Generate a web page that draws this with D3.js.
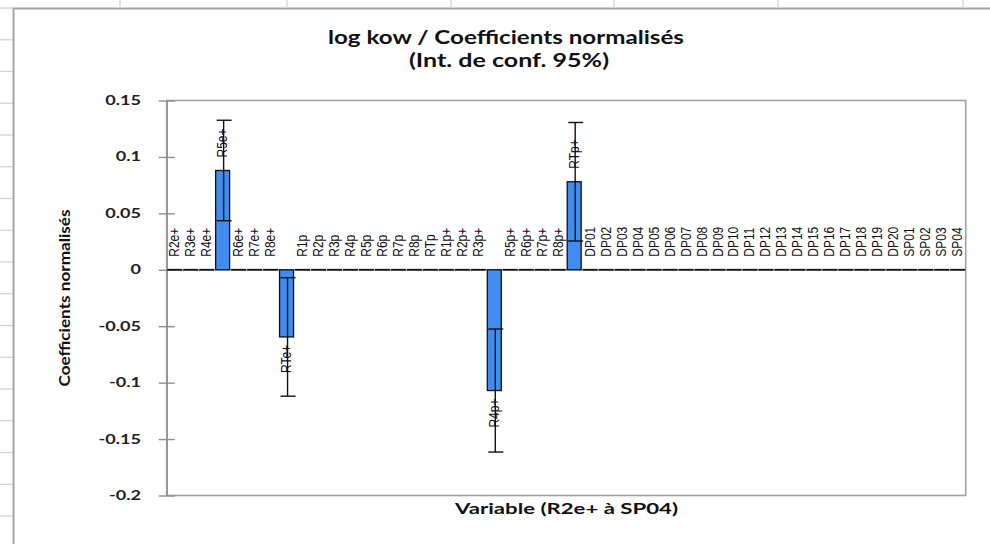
<!DOCTYPE html>
<html>
<head>
<meta charset="utf-8">
<script src="https://cdn.jsdelivr.net/npm/d3@7"></script>
<style>
  html, body { margin: 0; padding: 0; background: #fff; }
  svg { display: block; }
</style>
</head>
<body>
<svg id="chart" width="990" height="544"></svg>
<script>
// ---- data ----
const categories = [
  "R2e+","R3e+","R4e+","R5e+","R6e+","R7e+","R8e+","RTe+",
  "R1p","R2p","R3p","R4p","R5p","R6p","R7p","R8p","RTp",
  "R1p+","R2p+","R3p+","R4p+","R5p+","R6p+","R7p+","R8p+","RTp+",
  "DP01","DP02","DP03","DP04","DP05","DP06","DP07","DP08","DP09","DP10",
  "DP11","DP12","DP13","DP14","DP15","DP16","DP17","DP18","DP19","DP20",
  "SP01","SP02","SP03","SP04"
];
const values = [
  0, 0, 0, 0.088, 0, 0, 0, -0.0595,
  0, 0, 0, 0, 0, 0, 0, 0, 0,
  0, 0, 0, -0.107, 0, 0, 0, 0, 0.078,
  0, 0, 0, 0, 0, 0, 0, 0, 0, 0,
  0, 0, 0, 0, 0, 0, 0, 0, 0, 0,
  0, 0, 0, 0
];
const errors = [
  0, 0, 0, 0.0445, 0, 0, 0, 0.0525,
  0, 0, 0, 0, 0, 0, 0, 0, 0,
  0, 0, 0, 0.0545, 0, 0, 0, 0, 0.0525,
  0, 0, 0, 0, 0, 0, 0, 0, 0, 0,
  0, 0, 0, 0, 0, 0, 0, 0, 0, 0,
  0, 0, 0, 0
];
const yTicks = [0.15, 0.1, 0.05, 0, -0.05, -0.1, -0.15, -0.2];
const yTickLabels = ["0.15", "0.1", "0.05", "0", "-0.05", "-0.1", "-0.15", "-0.2"];
const titleLines = ["log kow / Coefficients normalisés", "(Int. de conf. 95%)"];
const xTitle = "Variable (R2e+ à SP04)";
const yTitle = "Coefficients normalisés";

// ---- layout ----
const svg = d3.select("#chart");
const W = 990, H = 544;
const plot = { left: 166.7, right: 965.7, top: 100.5, bottom: 495.5 };
const uiFont = "Lato, 'Open Sans', 'DejaVu Sans', sans-serif";
const lblFont = "'Liberation Sans', Arial, sans-serif";

svg.append("rect").attr("width", W).attr("height", H).attr("fill", "#fff");

// spreadsheet gridline stubs outside the chart
const colStubs = [120, 287, 451, 614, 778, 963];
svg.selectAll("line.colstub").data(colStubs).join("line")
  .attr("x1", d => d).attr("x2", d => d).attr("y1", 0).attr("y2", 7)
  .attr("stroke", "#c9d1de").attr("stroke-width", 1.2);
const rowStubs = d3.range(8, H, 31.75);
svg.selectAll("line.rowstub").data(rowStubs).join("line")
  .attr("x1", 0).attr("x2", 13).attr("y1", d => d).attr("y2", d => d)
  .attr("stroke", "#c9d1de").attr("stroke-width", 1.2);

// chart area border
svg.append("path")
  .attr("d", `M13.5,${H + 2} L13.5,8.5 L${W + 2},8.5`)
  .attr("fill", "none").attr("stroke", "#a6a6a6").attr("stroke-width", 2);

// scales
const x = d3.scaleBand().domain(categories)
  .range([plot.left, plot.right]).paddingInner(0.125).paddingOuter(0.0625);
const y = d3.scaleLinear().domain([-0.2, 0.15]).range([plot.bottom, plot.top]);

// plot area border
svg.append("rect")
  .attr("x", plot.left).attr("y", plot.top)
  .attr("width", plot.right - plot.left).attr("height", plot.bottom - plot.top)
  .attr("fill", "#fff").attr("stroke", "#a0a0a0").attr("stroke-width", 1.6);

// y axis with crossing ticks
const yAxis = svg.append("g").attr("transform", `translate(${plot.left},0)`)
  .call(d3.axisLeft(y).tickValues(yTicks).tickSizeInner(8).tickSizeOuter(0).tickFormat(""));
yAxis.select(".domain").attr("stroke", "#909090").attr("stroke-width", 1.4);
yAxis.selectAll(".tick line").attr("stroke", "#909090").attr("stroke-width", 1.4)
  .attr("x1", 8);

// y tick labels
svg.selectAll("text.ytl").data(yTicks).join("text")
  .attr("class", "ytl")
  .attr("transform", d => `translate(141,${y(d) + 4.5}) scale(1.45,1)`)
  .attr("text-anchor", "end")
  .attr("font-family", uiFont).attr("font-weight", "bold").attr("font-size", 12.5)
  .attr("fill", "#222")
  .text((d, i) => yTickLabels[i]);

// horizontal category axis at zero
svg.append("line")
  .attr("x1", plot.left).attr("x2", plot.right)
  .attr("y1", y(0)).attr("y2", y(0))
  .attr("stroke", "#a0a0a0").attr("stroke-width", 1.4);

// bars
const rows = categories.map((c, i) => ({ c, v: values[i], e: errors[i] }));
svg.selectAll("rect.bar").data(rows.filter(d => d.v !== 0)).join("rect")
  .attr("class", "bar")
  .attr("x", d => x(d.c))
  .attr("width", x.bandwidth())
  .attr("y", d => Math.min(y(d.v), y(0)))
  .attr("height", d => Math.abs(y(d.v) - y(0)))
  .attr("fill", "#428bef").attr("stroke", "#111").attr("stroke-width", 1.3);
// zero-height bars show only their outline
svg.selectAll("line.zbar").data(rows.filter(d => d.v === 0)).join("line")
  .attr("class", "zbar")
  .attr("x1", d => x(d.c) - 0.5).attr("x2", d => x(d.c) + x.bandwidth() + 0.5)
  .attr("y1", d => y(d.v)).attr("y2", d => y(d.v))
  .attr("stroke", "#111").attr("stroke-width", 1.8);

// error bars
const eb = svg.selectAll("g.eb").data(rows.filter(d => d.e > 0)).join("g").attr("class", "eb");
eb.append("line")
  .attr("x1", d => x(d.c) + x.bandwidth() / 2 + 1).attr("x2", d => x(d.c) + x.bandwidth() / 2 + 1)
  .attr("y1", d => y(d.v + d.e)).attr("y2", d => y(d.v - d.e))
  .attr("stroke", "#111").attr("stroke-width", 1.4);
eb.selectAll("line.cap").data(d => [d.v + d.e, d.v - d.e].map(v => ({ c: d.c, v }))).join("line")
  .attr("class", "cap")
  .attr("x1", d => x(d.c) + 1).attr("x2", d => x(d.c) + x.bandwidth() + 2)
  .attr("y1", d => y(d.v)).attr("y2", d => y(d.v))
  .attr("stroke", "#111").attr("stroke-width", 1.4);

// data labels (category names), rotated
svg.selectAll("text.dl").data(rows).join("text")
  .attr("class", "dl")
  .attr("transform", d => {
    const cx = x(d.c) + x.bandwidth() / 2 + 4.5;
    const yy = d.v < 0 ? y(d.v) + 8 : y(d.v) - 13;
    return `translate(${cx},${yy}) scale(1.25,1) rotate(-90)`;
  })
  .attr("text-anchor", d => d.v < 0 ? "end" : "start")
  .attr("font-family", lblFont).attr("font-size", 12)
  .attr("fill", "#111")
  .text(d => d.c);

// titles
svg.append("text")
  .attr("x", 506).attr("y", 44).attr("text-anchor", "middle")
  .attr("font-family", uiFont).attr("font-weight", "bold").attr("font-size", 18)
  .attr("textLength", 356).attr("lengthAdjust", "spacingAndGlyphs")
  .attr("fill", "#111").text(titleLines[0]);
svg.append("text")
  .attr("x", 509).attr("y", 67).attr("text-anchor", "middle")
  .attr("font-family", uiFont).attr("font-weight", "bold").attr("font-size", 18)
  .attr("textLength", 200).attr("lengthAdjust", "spacingAndGlyphs")
  .attr("fill", "#111").text(titleLines[1]);

// x axis title
svg.append("text")
  .attr("x", 566.5).attr("y", 514).attr("text-anchor", "middle")
  .attr("font-family", uiFont).attr("font-weight", "bold").attr("font-size", 14.5)
  .attr("textLength", 223).attr("lengthAdjust", "spacingAndGlyphs")
  .attr("fill", "#111").text(xTitle);

// y axis title
svg.append("text")
  .attr("transform", "translate(70,298) rotate(-90)")
  .attr("text-anchor", "middle")
  .attr("font-family", uiFont).attr("font-weight", "bold").attr("font-size", 15)
  .attr("textLength", 177).attr("lengthAdjust", "spacingAndGlyphs")
  .attr("fill", "#111").text(yTitle);
</script>
</body>
</html>
